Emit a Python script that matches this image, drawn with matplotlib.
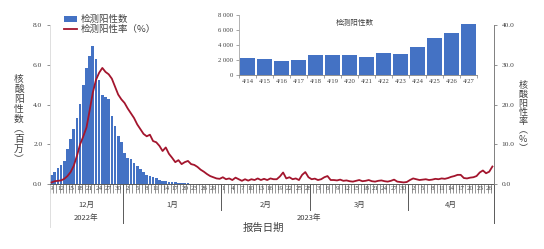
import numpy as np
import pandas as pd
import matplotlib
matplotlib.use('Agg')
import matplotlib.pyplot as plt
import matplotlib.transforms as mtransforms
from matplotlib.patches import Patch
from matplotlib.lines import Line2D

plt.rcParams['font.family'] = ['Liberation Serif', 'Noto Sans CJK SC']
CJK = ['Noto Sans CJK SC', 'DejaVu Sans']

# ---------------- data ----------------
start_date, end_date = '2022-12-09', '2023-04-27'

# nucleic-acid positive counts (millions)
cnt_dec = [0.45, 0.62, 0.78, 0.95, 1.17, 1.75, 2.28, 2.78, 3.3, 4.02, 5.0, 5.85, 6.42,
           6.94, 6.3, 5.25, 4.5, 4.38, 4.28, 3.42, 2.92, 2.42, 2.12]
cnt_jan = [1.58, 1.33, 1.25, 1.08, 0.92, 0.75, 0.58, 0.45, 0.38, 0.33, 0.28, 0.22, 0.17,
           0.14, 0.12, 0.10, 0.08, 0.065, 0.05, 0.04, 0.03, 0.022, 0.015, 0.012, 0.01,
           0.008, 0.007, 0.006, 0.005, 0.005, 0.0045]
# thousands
cnt_feb_k = [4.2, 3.9, 3.6, 3.4, 3.5, 3.2, 3.0, 3.1, 2.9, 2.8, 2.7, 2.9, 2.6, 2.5, 2.4,
             2.6, 2.5, 2.3, 2.4, 2.6, 2.2, 2.3, 2.1, 2.2, 2.0, 2.1, 2.3, 2.0]
cnt_mar_k = [1.9, 2.0, 1.8, 1.7, 1.9, 1.8, 1.6, 1.7, 1.8, 1.6, 1.5, 1.7, 1.6, 1.5, 1.4,
             1.6, 1.5, 1.4, 1.5, 1.3, 1.4, 1.5, 1.3, 1.4, 1.2, 1.3, 1.4, 1.2, 1.3, 1.4, 1.5]
cnt_apr_early_k = [1.6, 1.7, 1.5, 1.6, 1.8, 1.7, 1.9, 1.8, 1.7, 1.9, 2.0, 2.1, 2.0]

# inset: April 14-27 positive counts
inset_dates = ['4/14', '4/15', '4/16', '4/17', '4/18', '4/19', '4/20', '4/21', '4/22',
               '4/23', '4/24', '4/25', '4/26', '4/27']
inset_counts = [2200, 2080, 1850, 1950, 2600, 2650, 2650, 2430, 2870, 2800, 3700, 4950,
                5600, 6780]

# positive rate (%)
rate_dec = [0.4, 0.7, 0.8, 0.9, 1.3, 2.0, 3.0, 4.6, 7.1, 10.0, 12.0, 14.2, 18.5, 23.0,
            26.2, 28.0, 29.2, 28.2, 27.6, 26.5, 24.5, 22.5, 21.3]
rate_jan = [20.4, 19.0, 17.8, 16.6, 15.0, 13.8, 12.6, 12.0, 12.4, 10.8, 10.5, 9.6, 8.3,
            9.2, 7.6, 6.6, 5.5, 6.0, 5.0, 5.5, 5.8, 5.0, 4.8, 4.3, 3.6, 3.1, 2.5, 2.0,
            1.7, 1.4, 1.3]
rate_feb = [1.7, 1.2, 1.4, 1.0, 1.6, 1.2, 0.8, 1.2, 0.85, 1.2, 1.0, 1.4, 1.0, 1.3, 1.0,
            1.4, 1.2, 1.2, 1.9, 2.9, 1.4, 1.7, 1.2, 1.4, 1.0, 2.3, 3.0, 1.7]
rate_mar = [1.2, 1.35, 1.0, 1.2, 1.7, 2.0, 1.0, 1.0, 0.9, 1.1, 0.8, 0.9, 0.7, 0.6, 0.8,
            1.0, 0.7, 0.8, 1.0, 0.7, 0.6, 0.8, 0.9, 0.7, 0.6, 0.8, 1.1, 0.6, 0.5, 0.4, 0.5]
rate_apr = [1.0, 1.4, 1.2, 1.0, 1.1, 1.2, 1.0, 1.1, 1.3, 1.2, 1.4, 1.3, 1.5, 1.8, 2.0,
            2.3, 2.3, 1.5, 1.4, 1.6, 1.7, 2.0, 2.9, 3.4, 2.7, 3.1, 4.4]

month_names = ['12月', '1月', '2月', '3月', '4月']
year_names = ['2022年', '2023年']

left_ticks = [0, 2, 4, 6, 8]
right_ticks = [0, 10, 20, 30, 40]
inset_ticks = [0, 2000, 4000, 6000, 8000]

# ---------------- assemble ----------------
dates = pd.date_range(start_date, end_date, freq='D')
n = len(dates)
x = np.arange(n)
counts = np.array(cnt_dec + cnt_jan
                  + [v / 1000 for v in cnt_feb_k + cnt_mar_k + cnt_apr_early_k]
                  + [v / 1e6 for v in inset_counts])
rates = np.array(rate_dec + rate_jan + rate_feb + rate_mar + rate_apr)

BLUE = '#4472C4'
RED = '#A3152D'
TXT = '#404040'

W, H = 544, 249
fig = plt.figure(figsize=(W / 100, H / 100), dpi=100)
L, R, B, T = 50, 494, 184, 25
ax = fig.add_axes([L / W, 1 - B / H, (R - L) / W, (B - T) / H])
ax.bar(x, counts, width=0.84, color=BLUE, zorder=2)
ax.set_xlim(-0.5, n - 0.5)
ax.set_ylim(0, 8)
ax.set_yticks(left_ticks)
ax.set_yticklabels([f'{v:.1f}' for v in left_ticks])
ax.tick_params(axis='y', labelsize=5.3, colors='#808080', labelcolor=TXT, length=2.5, width=0.6, pad=3)

ax2 = ax.twinx()
ax2.plot(x, rates, color=RED, lw=1.3, zorder=3)
ax2.set_ylim(0, 40)
ax2.set_yticks(right_ticks)
ax2.set_yticklabels([f'{v:.1f}' for v in right_ticks])
ax2.tick_params(axis='y', labelsize=5.3, colors='#808080', labelcolor=TXT, length=2.5, width=0.6, pad=3)

for a in (ax, ax2):
    a.spines['top'].set_visible(False)
ax.spines['right'].set_visible(False)
ax2.spines['left'].set_visible(False)
ax2.spines['bottom'].set_visible(False)
ax.spines['left'].set_color('#D9D9D9')
ax.spines['left'].set_linewidth(0.6)
ax2.spines['right'].set_color('#808080')
ax2.spines['right'].set_linewidth(0.7)
ax.spines['bottom'].set_color('#595959')
ax.spines['bottom'].set_linewidth(0.7)

# x ticks: daily tick marks, labels every 3 days
ax.set_xticks(x[::3])
ax.set_xticklabels([str(d.day) for d in dates[::3]])
ax.tick_params(axis='x', which='major', length=0, pad=1.5, labelsize=5, labelcolor=TXT)
ax.set_xticks(np.arange(-0.5, n, 1), minor=True)
ax.tick_params(axis='x', which='minor', length=6.5, width=0.45, color='#595959')

# month / year separators and labels
trans = mtransforms.blended_transform_factory(ax.transData, ax.transAxes)
ph = B - T


def ay(p):
    return (B - p) / ph


month_starts = [0] + [i for i in range(1, n) if dates[i].month != dates[i - 1].month]
bounds = month_starts + [n]
for k, s in enumerate(month_starts):
    e = bounds[k + 1]
    ax.text((s + e - 1) / 2, ay(205), month_names[k], transform=trans, ha='center',
            va='center', fontsize=5.5, color=TXT, family=CJK)
for k, s in enumerate(bounds):
    xb = s - 0.5
    if k == 0:
        ax.plot([xb, xb], [0, ay(227)], transform=trans, color='#D9D9D9', lw=0.6, clip_on=False)
    elif k == 1 or k == len(bounds) - 1:
        ax.plot([xb, xb], [0, ay(223)], transform=trans, color='#595959', lw=0.7, clip_on=False)
    else:
        ax.plot([xb, xb], [0, ay(210)], transform=trans, color='#595959', lw=0.7, clip_on=False)

year_spans = [(0, month_starts[1]), (month_starts[1], n)]
for (s, e), yn in zip(year_spans, year_names):
    ax.text((s + e - 1) / 2, ay(218), yn, transform=trans, ha='center', va='center',
            fontsize=5.5, color=TXT, family=CJK)

fig.text(263 / W, 1 - 228 / H, '报告日期', ha='center', va='center', fontsize=7.5,
         color=TXT, family=CJK)
fig.text(19 / W, 1 - 119 / H, '\n'.join('核酸阳性数︵百万︶'), ha='center', va='center',
         fontsize=7, color=TXT, family=CJK, linespacing=1.0)
fig.text(523 / W, 1 - 117 / H, '\n'.join('核酸阳性率︵%︶'), ha='center', va='center',
         fontsize=6.5, color=TXT, family=CJK, linespacing=1.0)

# legend
handles = [Patch(facecolor=BLUE, edgecolor='none'), Line2D([0], [0], color=RED, lw=1.3)]
leg = fig.legend(handles, ['检测阳性数', '检测阳性率（%）'], loc='upper left',
                 bbox_to_anchor=(64 / W, 1 - 15 / H), frameon=False,
                 prop={'family': CJK, 'size': 6.8}, handlelength=1.4, handleheight=0.7,
                 handletextpad=0.35, labelspacing=0.1, borderpad=0, borderaxespad=0)
for t in leg.get_texts():
    t.set_color(TXT)

# inset
IL, IR, IB, IT = 239, 477, 75, 15
axi = fig.add_axes([IL / W, 1 - IB / H, (IR - IL) / W, (IB - IT) / H])
axi.set_facecolor('none')
xi = np.arange(len(inset_counts))
axi.bar(xi, inset_counts, width=0.9, color=BLUE)
axi.set_xlim(-0.5, len(inset_counts) - 0.5)
axi.set_ylim(0, 8000)
axi.set_yticks(inset_ticks)
axi.set_yticklabels(['0' if v == 0 else f'{v // 1000} {v % 1000:03d}' for v in inset_ticks])
axi.set_xticks(xi)
axi.set_xticklabels(inset_dates)
axi.tick_params(axis='x', which='major', length=0, pad=3, labelsize=4.8, labelcolor=TXT)
axi.set_xticks(np.arange(-0.5, len(inset_counts), 1), minor=True)
axi.tick_params(axis='x', which='minor', length=2.5, width=0.5, color='#808080')
axi.tick_params(axis='y', labelsize=4.8, labelcolor=TXT, length=2, width=0.5, color='#808080', pad=2)
for s in ('top', 'right'):
    axi.spines[s].set_visible(False)
axi.spines['left'].set_color('#A6A6A6')
axi.spines['left'].set_linewidth(0.6)
axi.spines['bottom'].set_color('#808080')
axi.spines['bottom'].set_linewidth(0.6)
axi.text(0.487, 0.87, '检测阳性数', transform=axi.transAxes, ha='center', va='center',
         fontsize=5.5, color=TXT, family=CJK)

fig.savefig('out.png', dpi=100)
